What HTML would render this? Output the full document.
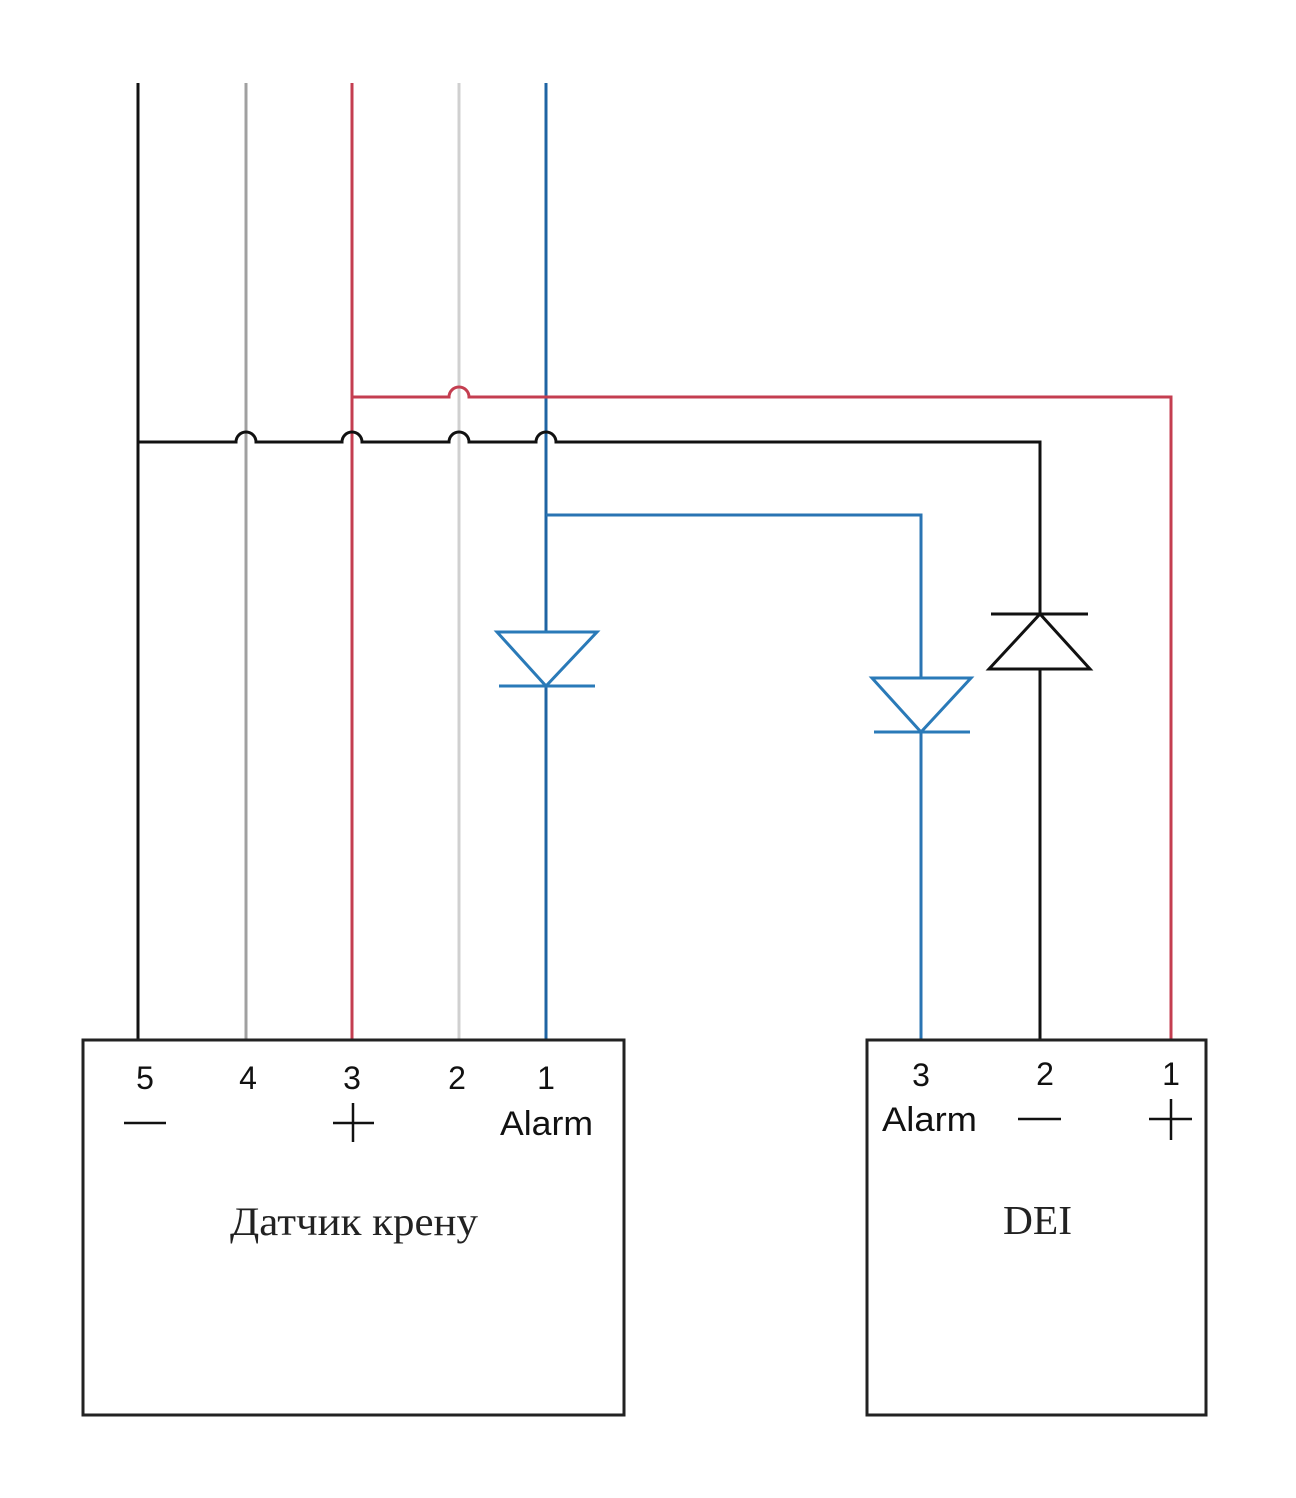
<!DOCTYPE html>
<html>
<head>
<meta charset="utf-8">
<style>
html,body{margin:0;padding:0;background:#fff;}
svg{display:block;}
.sans{font-family:"Liberation Sans",Arial,sans-serif;fill:#111;}
.serif{font-family:"Liberation Serif","Times New Roman",serif;fill:#222;}
</style>
</head>
<body>
<svg width="1296" height="1498" viewBox="0 0 1296 1498" xmlns="http://www.w3.org/2000/svg">
<rect width="1296" height="1498" fill="#fff"/>
<g fill="none" stroke-width="3" stroke-linejoin="miter">
  <!-- vertical wires from top to left box -->
  <line x1="138" y1="83" x2="138" y2="1040" stroke="#111"/>
  <line x1="246" y1="83" x2="246" y2="1040" stroke="#a0a0a0"/>
  <line x1="459" y1="83" x2="459" y2="1040" stroke="#d0d0d0"/>
  <line x1="352" y1="83" x2="352" y2="1040" stroke="#c43e50"/>
  <!-- blue main wire -->
  <line x1="546" y1="83" x2="546" y2="632" stroke="#1f64a3"/>
  <line x1="546" y1="686" x2="546" y2="1040" stroke="#1f64a3"/>

  <!-- red horizontal with hop over light gray -->
  <path d="M352 397 H449 A10 10 0 0 1 469 397 H1171 V1040" stroke="#c43e50"/>

  <!-- black horizontal with hops -->
  <path d="M138 442 H236 A10 10 0 0 1 256 442 H342 A10 10 0 0 1 362 442 H449 A10 10 0 0 1 469 442 H536 A10 10 0 0 1 556 442 H1040 V614" stroke="#111"/>
  <line x1="1040" y1="669" x2="1040" y2="1040" stroke="#111"/>

  <!-- blue branch -->
  <path d="M546 515 H921 V678" stroke="#2a74b3"/>
  <line x1="921" y1="732" x2="921" y2="1040" stroke="#2a74b3"/>

  <!-- blue diode 1 -->
  <polygon points="497,632 597,632 546,686" stroke="#2a7ab8"/>
  <line x1="499" y1="686" x2="595" y2="686" stroke="#2a7ab8"/>

  <!-- blue diode 2 -->
  <polygon points="872,678 971,678 921,732" stroke="#2a7ab8"/>
  <line x1="874" y1="732" x2="970" y2="732" stroke="#2a7ab8"/>

  <!-- black diode -->
  <polygon points="989,669 1090,669 1040,614" stroke="#111"/>
  <line x1="991" y1="614" x2="1088" y2="614" stroke="#111"/>

  <!-- boxes -->
  <rect x="83" y="1040" width="541" height="375" stroke="#222" stroke-width="3"/>
  <rect x="867" y="1040" width="339" height="375" stroke="#222" stroke-width="3"/>

  <!-- minus / plus signs left box -->
  <line x1="124" y1="1123" x2="166" y2="1123" stroke="#111" stroke-width="2.5"/>
  <line x1="333" y1="1123" x2="374" y2="1123" stroke="#111" stroke-width="2.5"/>
  <line x1="353" y1="1103" x2="353" y2="1142" stroke="#111" stroke-width="2.5"/>

  <!-- minus / plus right box -->
  <line x1="1018" y1="1119" x2="1061" y2="1119" stroke="#111" stroke-width="2.5"/>
  <line x1="1149" y1="1119" x2="1192" y2="1119" stroke="#111" stroke-width="2.5"/>
  <line x1="1171" y1="1099" x2="1171" y2="1140" stroke="#111" stroke-width="2.5"/>
</g>

<!-- left box labels -->
<g class="sans" font-size="32" text-anchor="middle">
  <text x="145" y="1089">5</text>
  <text x="248" y="1089">4</text>
  <text x="352" y="1089">3</text>
  <text x="457" y="1089">2</text>
  <text x="546" y="1089">1</text>
  <text x="921" y="1086">3</text>
  <text x="1045" y="1085">2</text>
  <text x="1171" y="1085">1</text>
</g>
<text class="sans" x="500" y="1135" font-size="34" textLength="93" lengthAdjust="spacingAndGlyphs">Alarm</text>
<text class="sans" x="882" y="1131" font-size="34" textLength="95" lengthAdjust="spacingAndGlyphs">Alarm</text>

<text class="serif" x="230" y="1235" font-size="40" textLength="248" lengthAdjust="spacingAndGlyphs">Датчик крену</text>
<text class="serif" x="1003" y="1234" font-size="41" textLength="69" lengthAdjust="spacingAndGlyphs">DEI</text>
</svg>
</body>
</html>
